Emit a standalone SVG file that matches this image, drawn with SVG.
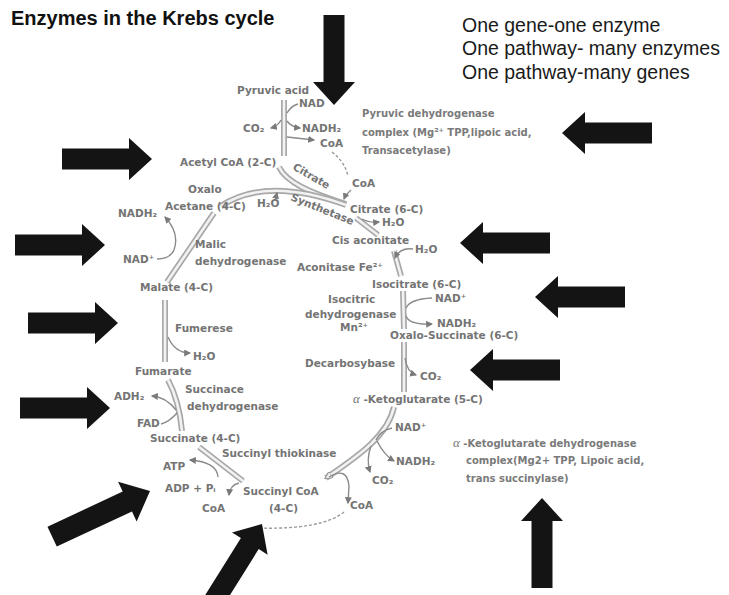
<svg xmlns="http://www.w3.org/2000/svg" width="729" height="595" viewBox="0 0 729 595">
<style>
.title{font-family:"Liberation Sans",Arial,sans-serif;font-weight:bold;font-size:20px;fill:#111}
.note{font-family:"Liberation Sans",Arial,sans-serif;font-size:19.5px;fill:#1a1a1a}
.t{font-family:"DejaVu Sans",sans-serif;font-weight:bold;font-size:10.5px;fill:#747474}
.c{font-family:"DejaVu Sans",sans-serif;font-weight:bold;font-size:10px;fill:#7a7a7a}
.al{font-family:"Liberation Serif",serif;font-style:italic;font-weight:normal}
.bo{fill:none;stroke:#a8a8a8;stroke-width:6;stroke-linecap:butt}
.bi{fill:none;stroke:#f2f2f2;stroke-width:2.6;stroke-linecap:butt}
.r{fill:none;stroke:#8a8a8a;stroke-width:1.4}
.rd{fill:none;stroke:#999;stroke-width:1.4;stroke-dasharray:3 2}
.big{fill:#141414}
</style>
<defs>
<marker id="ah" viewBox="0 0 6 6" refX="5" refY="3" markerWidth="5" markerHeight="5" orient="auto">
<path d="M0,0 L6,3 L0,6 z" fill="#7a7a7a"/>
</marker>
<marker id="bh" viewBox="0 0 10 10" refX="8" refY="5" markerWidth="3" markerHeight="3" orient="auto" markerUnits="strokeWidth">
<path d="M0,0 L10,5 L0,10 z" fill="#f2f2f2" stroke="#999" stroke-width="1.5"/>
</marker>
<polygon id="blk" points="-90,-10.5 -23,-10.5 -23,-21 0,0 -23,21 -23,10.5 -90,10.5"/>
<polygon id="blk2" points="-108,-11 -25,-11 -25,-22 0,0 -25,22 -25,11 -108,11"/>
<path id="p-stem" d="M284,100 L284,156"/>
<path id="p-acetyl" d="M279,167 C286,182 310,193 346,204"/>
<path id="p-oxa" d="M221,206 Q266,176 346,205"/>
<path id="p-r1" d="M356,218 L378,235"/>
<path id="p-r2" d="M394,251 L401,276"/>
<path id="p-r3" d="M403,291 L404,329"/>
<path id="p-r4" d="M404,342 L404,392"/>
<path id="p-r5" d="M394,407 C388,435 360,455 326,478"/>
<path id="p-l1" d="M243,481 L199,447"/>
<path id="p-l2" d="M182,431 Q179,400 168,380"/>
<path id="p-l3" d="M165,362 L165,300"/>
<path id="p-l4" d="M167,282 L214,213"/>
</defs>

<rect width="729" height="595" fill="#fff"/>

<g id="title"><text class="title" x="11" y="25">Enzymes in the Krebs cycle</text></g>
<g id="notes">
<text class="note" x="462" y="32">One gene-one enzyme</text>
<text class="note" x="462" y="55">One pathway- many enzymes</text>
<text class="note" x="462" y="79">One pathway-many genes</text>
</g>

<g id="connectors">
<g id="cycle-bands">
<use href="#p-stem" class="bo"/><use href="#p-stem" class="bi"/>
<use href="#p-acetyl" class="bo"/><use href="#p-acetyl" class="bi"/>
<use href="#p-oxa" class="bo"/><use href="#p-oxa" class="bi"/>
<use href="#p-r1" class="bo"/><use href="#p-r1" class="bi"/>
<use href="#p-r2" class="bo"/><use href="#p-r2" class="bi"/>
<use href="#p-r3" class="bo"/><use href="#p-r3" class="bi"/>
<use href="#p-r4" class="bo"/><use href="#p-r4" class="bi"/>
<use href="#p-r5" class="bo"/><use href="#p-r5" class="bi" marker-end="url(#bh)"/>
<use href="#p-l1" class="bo"/><use href="#p-l1" class="bi"/>
<use href="#p-l2" class="bo"/><use href="#p-l2" class="bi"/>
<use href="#p-l3" class="bo"/><use href="#p-l3" class="bi"/>
<use href="#p-l4" class="bo"/><use href="#p-l4" class="bi"/>
</g>
<g id="side-reactions">
<path class="r" d="M287,113 Q291,106 298,104"/>
<path class="r" d="M287,121 Q291,127 300,128" marker-end="url(#ah)"/>
<path class="r" d="M281,120 Q278,126 271,128" marker-end="url(#ah)"/>
<path class="r" d="M287,137 L314,140" marker-end="url(#ah)"/>
<path class="rd" d="M332,152 Q345,162 348,176"/>
<path class="r" d="M351,190 Q346,194 344,199" marker-end="url(#ah)"/>
<path class="r" d="M275,201 L277,193" marker-end="url(#ah)"/>
<path class="r" d="M362,219 Q369,223 379,222" marker-end="url(#ah)"/>
<path class="r" d="M413,249 Q400,247 395,258" marker-end="url(#ah)"/>
<path class="r" d="M406,308 Q410,299 432,298"/>
<path class="r" d="M406,316 Q409,325 432,324" marker-end="url(#ah)"/>
<path class="r" d="M405,358 Q407,372 416,375" marker-end="url(#ah)"/>
<path class="r" d="M392,428 Q380,431 376,440"/>
<path class="r" d="M377,441 Q384,455 394,461" marker-end="url(#ah)"/>
<path class="r" d="M371,446 Q366,460 370,472" marker-end="url(#ah)"/>
<path class="r" d="M329,477 Q347,466 349,486 L348,503" marker-end="url(#ah)"/>
<path class="rd" d="M344,512 Q322,530 256,528"/>
<path class="r" d="M239,483 Q230,485 229,495" marker-end="url(#ah)"/>
<path class="r" d="M218,477 Q217,462 190,460" marker-end="url(#ah)"/>
<path class="r" d="M176,410 Q166,397 152,396" marker-end="url(#ah)"/>
<path class="r" d="M161,424 Q169,422 177,413"/>
<path class="r" d="M168,337 Q175,353 190,353" marker-end="url(#ah)"/>
<path class="r" d="M157,259 Q170,259 174,250 Q180,233 165,217" marker-end="url(#ah)"/>
</g>
</g>

<g id="n-pyruvic"><text class="t" x="237" y="94">Pyruvic acid</text></g>
<g id="n-nad1"><text class="t" x="299" y="107">NAD</text></g>
<g id="n-co2a"><text class="t" x="243" y="132">CO₂</text></g>
<g id="n-nadh1"><text class="t" x="302" y="132">NADH₂</text></g>
<g id="n-coa1"><text class="t" x="320" y="147">CoA</text></g>
<g id="n-acetyl"><text class="t" x="180" y="166">Acetyl CoA (2-C)</text></g>
<g id="n-citrate-enz"><text class="t" transform="translate(292,169) rotate(30)">Citrate</text></g>
<g id="n-coa2"><text class="t" x="352" y="187">CoA</text></g>
<g id="n-synth"><text class="t" transform="translate(290,200) rotate(22)">Synthetase</text></g>
<g id="n-h2o1"><text class="t" x="257" y="207">H₂O</text></g>
<g id="n-oxalo"><text class="t" x="188" y="193">Oxalo</text><text class="t" x="165" y="210">Acetane (4-C)</text></g>
<g id="n-nadh-mal"><text class="t" x="118" y="217">NADH₂</text></g>
<g id="n-nad-mal"><text class="t" x="123" y="263">NAD⁺</text></g>
<g id="n-malic"><text class="t" x="195" y="248">Malic</text><text class="t" x="195" y="265">dehydrogenase</text></g>
<g id="n-malate"><text class="t" x="140" y="291">Malate (4-C)</text></g>
<g id="n-citrate"><text class="t" x="350" y="213">Citrate (6-C)</text></g>
<g id="n-h2o2"><text class="t" x="382" y="226">H₂O</text></g>
<g id="n-cis"><text class="t" x="332" y="244">Cis aconitate</text></g>
<g id="n-h2o3"><text class="t" x="415" y="253">H₂O</text></g>
<g id="n-aconitase"><text class="t" x="297" y="271">Aconitase Fe²⁺</text></g>
<g id="n-isocitrate"><text class="t" x="372" y="288">Isocitrate (6-C)</text></g>
<g id="n-icdh"><text class="t" x="328" y="303">Isocitric</text><text class="t" x="305" y="318">dehydrogenase</text><text class="t" x="340" y="331">Mn²⁺</text></g>
<g id="n-nad2"><text class="t" x="435" y="302">NAD⁺</text></g>
<g id="n-nadh2"><text class="t" x="437" y="327">NADH₂</text></g>
<g id="n-oxsucc"><text class="t" x="390" y="339">Oxalo-Succinate (6-C)</text></g>
<g id="n-decarb"><text class="t" x="305" y="367">Decarbosybase</text></g>
<g id="n-co2b"><text class="t" x="420" y="380">CO₂</text></g>
<g id="n-akg"><text class="t" x="353" y="403"><tspan class="al" font-size="13">α</tspan> -Ketoglutarate (5-C)</text></g>
<g id="n-nad3"><text class="t" x="395" y="431">NAD⁺</text></g>
<g id="n-nadh3"><text class="t" x="396" y="465">NADH₂</text></g>
<g id="n-co2c"><text class="t" x="372" y="484">CO₂</text></g>
<g id="n-coa3"><text class="t" x="350" y="509">CoA</text></g>
<g id="n-succoa"><text class="t" x="243" y="495">Succinyl CoA</text><text class="t" x="269" y="512">(4-C)</text></g>
<g id="n-coa4"><text class="t" x="202" y="512">CoA</text></g>
<g id="n-thiok"><text class="t" x="222" y="457">Succinyl thiokinase</text></g>
<g id="n-atp"><text class="t" x="163" y="470">ATP</text></g>
<g id="n-adp"><text class="t" x="165" y="492">ADP + Pᵢ</text></g>
<g id="n-succinate"><text class="t" x="150" y="442">Succinate (4-C)</text></g>
<g id="n-fad"><text class="t" x="137" y="427">FAD</text></g>
<g id="n-fadh"><text class="t" x="114" y="400">ADH₂</text></g>
<g id="n-sdh"><text class="t" x="185" y="393">Succinace</text><text class="t" x="187" y="410">dehydrogenase</text></g>
<g id="n-fumarate"><text class="t" x="135" y="375">Fumarate</text></g>
<g id="n-fumerese"><text class="t" x="175" y="332">Fumerese</text></g>
<g id="n-h2o4"><text class="t" x="193" y="360">H₂O</text></g>

<g id="n-pdh">
<text class="c" x="362" y="117">Pyruvic dehydrogenase</text>
<text class="c" x="362" y="136">complex (Mg²⁺ TPP,lipoic acid,</text>
<text class="c" x="362" y="154">Transacetylase)</text>
</g>
<g id="n-akgdh">
<text class="c" x="453" y="447" font-size="10.8"><tspan class="al" font-size="13">α</tspan> -Ketoglutarate dehydrogenase</text>
<text class="c" x="466" y="464" font-size="10.8">complex(Mg2+ TPP, Lipoic acid,</text>
<text class="c" x="466" y="482" font-size="10.8">trans succinylase)</text>
</g>

<g id="pointers">
<use href="#blk" class="big" transform="translate(334,105) rotate(90)"/>
<use href="#blk" class="big" transform="translate(152,159)"/>
<use href="#blk" class="big" transform="translate(562,133) rotate(180)"/>
<use href="#blk" class="big" transform="translate(105,245)"/>
<use href="#blk" class="big" transform="translate(460,243) rotate(180)"/>
<use href="#blk" class="big" transform="translate(118,323)"/>
<use href="#blk" class="big" transform="translate(535,297) rotate(180)"/>
<use href="#blk" class="big" transform="translate(470,370) rotate(180)"/>
<use href="#blk" class="big" transform="translate(110,408)"/>
<use href="#blk2" class="big" transform="translate(150,491) rotate(-25)"/>
<use href="#blk" class="big" transform="translate(262,524) rotate(-58)"/>
<use href="#blk" class="big" transform="translate(542,498) rotate(-90)"/>
</g>
</svg>
